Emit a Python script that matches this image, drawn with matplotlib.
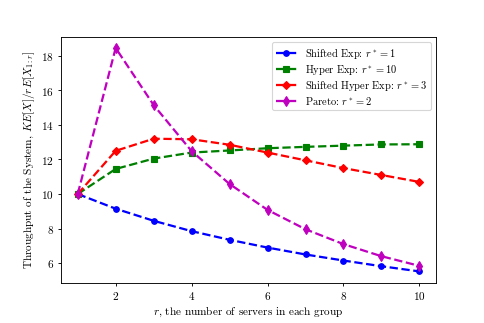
import numpy as np
import matplotlib as mpl
import matplotlib.pyplot as plt

mpl.use('agg')

plt.rcParams['font.family'] = 'serif'
plt.rcParams['font.serif'] = ['cmr10']
plt.rcParams['mathtext.fontset'] = 'cm'
plt.rcParams['axes.formatter.use_mathtext'] = True

# number of servers in each group
r = [1, 2, 3, 4, 5, 6, 7, 8, 9, 10]

shifted_exp = [10.0, 9.15, 8.45, 7.85, 7.35, 6.9, 6.5, 6.15, 5.82, 5.52]
hyper_exp = [10.0, 11.45, 12.05, 12.4, 12.52, 12.65, 12.73, 12.8, 12.87, 12.88]
shifted_hyper_exp = [10.0, 12.5, 13.2, 13.17, 12.85, 12.4, 11.95, 11.5, 11.1, 10.7]
pareto = [10.0, 18.45, 15.15, 12.48, 10.58, 9.08, 7.96, 7.1, 6.4, 5.84]

fig = plt.figure(figsize=(6, 4), dpi=80.83)
fig.subplots_adjust(left=0.125, right=0.9, bottom=0.125, top=0.885)
ax = fig.add_subplot(1, 1, 1)

ax.plot(r, shifted_exp, 'b--o', lw=2, ms=5, label='Shifted Exp: $r^* = 1$')
ax.plot(r, hyper_exp, 'g--s', lw=2, ms=5, label='Hyper Exp: $r^* = 10$')
ax.plot(r, shifted_hyper_exp, 'r--D', lw=2, ms=5, label='Shifted Hyper Exp: $r^* = 3$')
ax.plot(r, pareto, 'm--d', lw=2, ms=6, label='Pareto: $r^* = 2$')

ax.tick_params(length=3, pad=3)
ax.set_xlabel('$r$, the number of servers in each group', labelpad=3)
ax.set_ylabel('Throughput of the System, $KE[X]/rE[X_{1:r}]$')
ax.legend(loc='upper right', fontsize=9.3, labelspacing=0.15, borderpad=0.35)

fig.savefig('out.png')
